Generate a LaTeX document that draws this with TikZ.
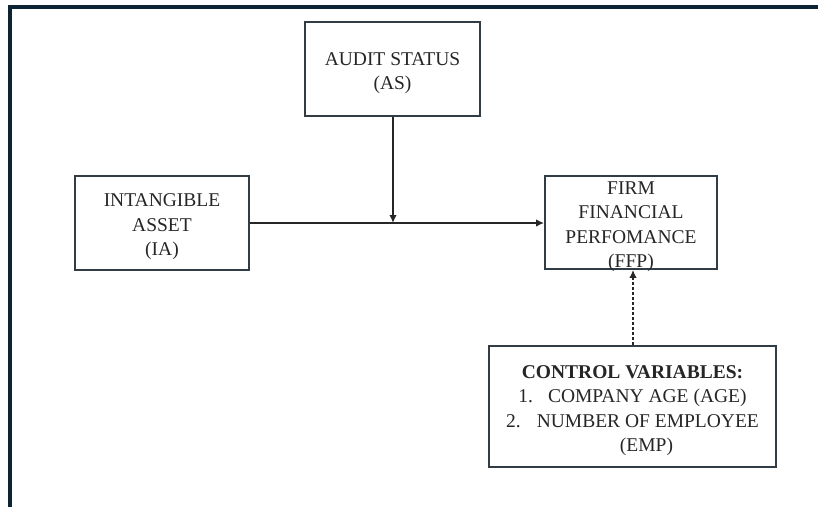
\documentclass[tikz,border=0pt]{standalone}
\usepackage{fontspec}
\setmainfont{Liberation Serif}
\usetikzlibrary{arrows.meta}
\definecolor{framec}{RGB}{12,36,52}
\definecolor{boxc}{RGB}{50,60,68}
\definecolor{linec}{RGB}{38,38,38}
\begin{document}
\begin{tikzpicture}[x=1pt,y=-1pt,
  vbox/.style={draw=boxc,line width=1.8pt,inner sep=0pt},
  vtext/.style={inner sep=0pt,align=center,yshift=-4pt,
    font=\fontsize{19.5}{24.5}\selectfont,text=black!85},
  conn/.style={draw=linec,line width=1.7pt,-{Latex[length=8pt,width=7.5pt]}},
  dconn/.style={conn,dash pattern=on 3pt off 2pt}]
\useasboundingbox (0,0) rectangle (818,507);
\fill[white] (0,0) rectangle (818,507);
\draw[framec,line width=4pt] (10,507) -- (10,6.5) -- (818,6.5);
\node[vbox,minimum width=175pt,minimum height=94pt] (as) at (392.5,69) {};
\node[vtext] (ast) at (as.center) {AUDIT STATUS\\(AS)};
\node[vbox,minimum width=174pt,minimum height=94pt] (ia) at (162,223) {};
\node[vtext] (iat) at (ia.center) {INTANGIBLE\\ASSET\\(IA)};
\node[vbox,minimum width=172pt,minimum height=93pt] (ffp) at (631,222.5) {};
\node[vtext] (ffpt) at (ffp.center) {FIRM\\FINANCIAL\\PERFOMANCE\\(FFP)};
\node[vbox,minimum width=287pt,minimum height=121pt] (cv) at (632.5,406.5) {};
\node[vtext] (cvt) at (cv.center)
  {\textbf{CONTROL VARIABLES:}\\1.\hspace{15pt}COMPANY AGE (AGE)\\2.\hspace{16pt}NUMBER OF EMPLOYEE\\\hspace*{28pt}(EMP)};
\coordinate (m) at (393,223);
\draw[conn] (ia.east |- m) -- (ffp.west |- m);
\draw[conn] (as.south -| m) -- (m);
\draw[dconn] (cv.north -| 633,0) -- (ffp.south -| 633,0);
\end{tikzpicture}
\end{document}
